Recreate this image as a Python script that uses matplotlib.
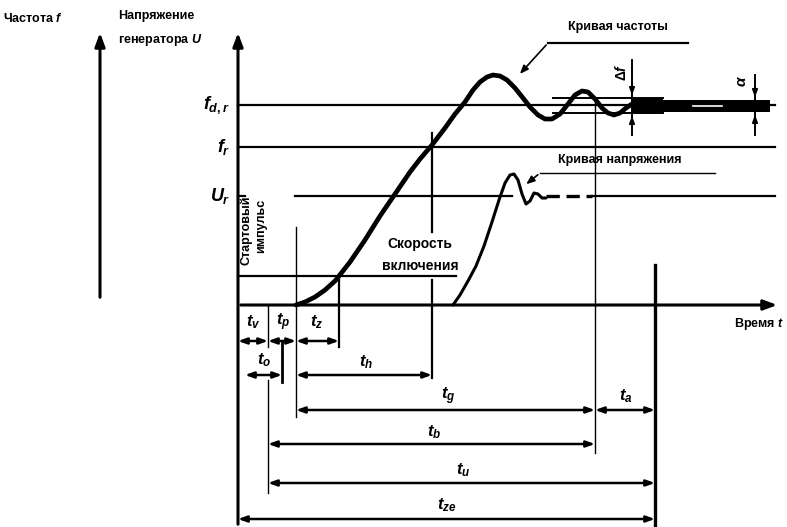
import matplotlib as mpl
mpl.use('Agg')

import matplotlib.pyplot as plt

plt.rcParams['font.family'] = ['Liberation Sans Narrow', 'Liberation Sans', 'DejaVu Sans']
plt.rcParams['font.weight'] = 'bold'
plt.rcParams['mathtext.fontset'] = 'custom'
plt.rcParams['mathtext.it'] = 'Liberation Sans:italic:bold'
plt.rcParams['mathtext.rm'] = 'Liberation Sans:bold'

# picture is laid out in pixel units (x right, y down)
AXIS_F_X = 100
AXIS_U_X = 238
TIME_Y = 305
TOP_Y = 30
RIGHT_X = 780

# reference levels
levels = ['$f_{d,r}$', '$f_r$', '$U_r$']
level_y = [105, 147, 196]

# time marks on the time axis
t_marks = {'v': 268, 'p': 296, 'z': 339, 'o': 282, 'h': 432, 'g': 595, 'e': 655}

# frequency curve
freq_x = [296, 305, 315, 325, 335, 339, 350, 365, 380, 395, 410, 420, 432, 445, 455,
          465, 473, 480, 487, 493, 500, 507, 515, 523, 530, 538, 545, 552, 560, 568,
          575, 582, 588, 595, 602, 608, 614, 620, 626, 632]
freq_y = [305, 302, 297, 290, 281, 276, 262, 240, 216, 194, 172, 159, 145, 128, 114,
          102, 90, 82, 77, 75, 76, 80, 88, 98, 107, 115, 119, 119, 114, 104,
          95, 91, 92, 99, 108, 113, 115, 113, 108, 104]

# voltage curve
volt_x = [453, 460, 468, 476, 484, 492, 499, 505, 510, 514, 518, 522, 526, 530, 534, 538, 542, 546]
volt_y = [305, 295, 281, 266, 246, 222, 200, 183, 175, 174, 180, 194, 204, 201, 193, 194, 198, 198]

# dimension rows: label, start, end, y, label x, label y
dims = [
    ('$t_v$', 238, 268, 341, 253, 322),
    ('$t_p$', 268, 296, 341, 283, 322),
    ('$t_z$', 296, 339, 341, 317, 322),
    ('$t_o$', 245, 282, 375, 264, 360),
    ('$t_h$', 296, 432, 375, 366, 362),
    ('$t_g$', 296, 595, 410, 448, 396),
    ('$t_a$', 595, 655, 410, 626, 396),
    ('$t_b$', 268, 595, 444, 434, 432),
    ('$t_u$', 268, 655, 483, 463, 470),
    ('$t_{ze}$', 238, 655, 519, 447, 505),
]

fig = plt.figure(figsize=(7.87, 5.27), dpi=100)
ax = fig.add_axes([0, 0, 1, 1])
ax.set_xlim(0, 787)
ax.set_ylim(527, 0)
ax.set_axis_off()

k = 'black'
arrow_big = dict(arrowstyle='-|>,head_length=0.8,head_width=0.3', color=k, lw=2.2)

# main axes
ax.annotate('', xy=(AXIS_F_X, TOP_Y), xytext=(AXIS_F_X, 300), arrowprops=arrow_big)
ax.annotate('', xy=(AXIS_U_X, TOP_Y), xytext=(AXIS_U_X, 527), arrowprops=arrow_big)
ax.annotate('', xy=(RIGHT_X, TIME_Y), xytext=(AXIS_U_X, TIME_Y), arrowprops=arrow_big)

ax.text(3, 18, 'Частота $f$', fontsize=9, ha='left', va='center')
ax.text(118, 16, 'Напряжение', fontsize=9, ha='left', va='center')
ax.text(118, 40, 'генератора $U$', fontsize=9, ha='left', va='center')
ax.text(784, 324, 'Время $t$', fontsize=9, ha='right', va='center')

# reference levels
ax.plot([AXIS_U_X, 775], [level_y[0]] * 2, color=k, lw=1.6)
ax.plot([AXIS_U_X, 775], [level_y[1]] * 2, color=k, lw=1.6)
ax.plot([AXIS_U_X, 245], [level_y[2]] * 2, color=k, lw=1.6)
ax.plot([295, 512], [level_y[2]] * 2, color=k, lw=1.6)
ax.plot([546, 592], [level_y[2]] * 2, color=k, lw=2.4, ls=(0, (4, 2)))
ax.plot([592, 775], [level_y[2]] * 2, color=k, lw=1.6)
for lab, y in zip(levels, level_y):
    ax.text(AXIS_U_X - 8, y, lab, fontsize=13, ha='right', va='center')

# switching speed level
ax.plot([AXIS_U_X, 456], [276, 276], color=k, lw=1.6)
ax.text(420, 244, 'Скорость', fontsize=10, ha='center', va='center')
ax.text(420, 266, 'включения', fontsize=10, ha='center', va='center')

# start impulse
ax.text(246, 230, 'Стартовый', fontsize=9, rotation=90, ha='center', va='center')
ax.text(261, 226, 'импульс', fontsize=9, rotation=90, ha='center', va='center')

# vertical marker lines
ax.plot([t_marks['p']] * 2, [227, 417], color=k, lw=1.0)
ax.plot([t_marks['v']] * 2, [TIME_Y, 347], color=k, lw=1.0)
ax.plot([t_marks['v']] * 2, [380, 493], color=k, lw=1.0)
ax.plot([t_marks['z']] * 2, [276, 347], color=k, lw=1.6)
ax.plot([t_marks['o']] * 2, [342, 382], color=k, lw=2.0)
ax.plot([t_marks['h']] * 2, [133, 232], color=k, lw=1.6)
ax.plot([t_marks['h']] * 2, [280, 378], color=k, lw=1.6)
ax.plot([t_marks['g']] * 2, [100, 453], color=k, lw=1.0)
ax.plot([t_marks['e']] * 2, [265, 527], color=k, lw=2.4)

# tolerance band of frequency
ax.plot([553, 663], [98, 98], color=k, lw=1.4)
ax.plot([553, 663], [113, 113], color=k, lw=1.4)
ax.fill_between([632, 663], [98, 98], [113, 113], color=k, lw=0)
ax.fill_between([663, 770], [100, 100], [112, 112], color=k, lw=0)
ax.plot([693, 722], [106, 106], color='white', lw=1.2)

# curves
ax.plot(freq_x, freq_y, color=k, lw=3.4, solid_capstyle='round', solid_joinstyle='round')
ax.plot(volt_x, volt_y, color=k, lw=2.2, solid_capstyle='round', solid_joinstyle='round')

# curve captions
ax.text(618, 27, 'Кривая частоты', fontsize=9, ha='center', va='center')
ax.plot([548, 688], [43, 43], color=k, lw=1.6)
ax.annotate('', xy=(518, 76), xytext=(548, 43),
            arrowprops=dict(arrowstyle='-|>,head_length=0.5,head_width=0.2', color=k, lw=1.2))
ax.text(620, 160, 'Кривая напряжения', fontsize=9, ha='center', va='center')
ax.plot([540, 715], [173, 173], color=k, lw=1.0)
ax.annotate('', xy=(524, 186), xytext=(540, 173),
            arrowprops=dict(arrowstyle='-|>,head_length=0.5,head_width=0.2', color=k, lw=1.2))

# delta f and band markers
small = dict(arrowstyle='-|>,head_length=0.4,head_width=0.15', color=k, lw=1.4)
ax.plot([632, 632], [60, 135], color=k, lw=1.4)
ax.annotate('', xy=(632, 98), xytext=(632, 80), arrowprops=small)
ax.annotate('', xy=(632, 113), xytext=(632, 130), arrowprops=small)
ax.text(621, 72, r'$\Delta f$', fontsize=10, rotation=90, ha='center', va='center')
ax.plot([755, 755], [75, 135], color=k, lw=1.4)
ax.annotate('', xy=(755, 100), xytext=(755, 88), arrowprops=small)
ax.annotate('', xy=(755, 112), xytext=(755, 124), arrowprops=small)
ax.text(742, 81, r'$\alpha$', fontsize=11, rotation=90, ha='center', va='center')

# dimension rows
dim_arrow = dict(arrowstyle='<|-|>,head_length=0.5,head_width=0.18', color=k, lw=1.8,
                 shrinkA=0, shrinkB=0)
for lab, x0, x1, y, lx, ly in dims:
    ax.annotate('', xy=(x1, y), xytext=(x0, y), arrowprops=dim_arrow)
    ax.text(lx, ly, lab, fontsize=12, ha='center', va='center')

fig.savefig('out.png', dpi=100, facecolor='white')
